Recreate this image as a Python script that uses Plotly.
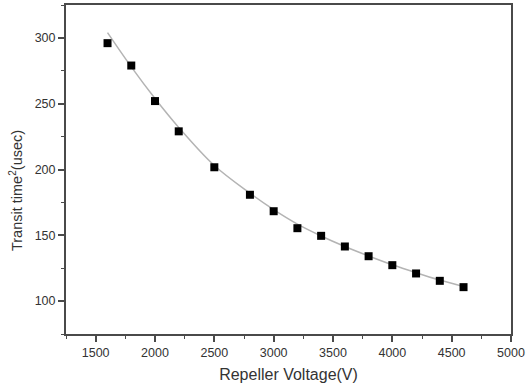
import plotly.graph_objects as go

voltage = [1600, 1800, 2000, 2200, 2500, 2800, 3000, 3200, 3400, 3600, 3800, 4000, 4200, 4400, 4600]
transit_sq = [296, 279, 252, 229, 201.7, 180.8, 168.3, 155.4, 149.6, 141.5, 134.1, 127.3, 121, 115.4, 110.6]

fit_voltage = [1600, 1800, 2000, 2200, 2500, 2800, 3000, 3200, 3400, 3600, 3800, 4000, 4200, 4400, 4600]
fit_values = [304, 278, 254, 232, 203, 182, 169.5, 158.5, 149.5, 141.5, 134.3, 127.6, 121.6, 116, 111]

x_ticks = [1500, 2000, 2500, 3000, 3500, 4000, 4500, 5000]
y_ticks = [100, 150, 200, 250, 300]

fig = go.Figure()
fig.add_trace(go.Scatter(x=fit_voltage, y=fit_values, mode="lines",
                         line=dict(color="#b4b4b4", width=1.5, shape="spline", smoothing=1.0),
                         showlegend=False, hoverinfo="skip"))
fig.add_trace(go.Scatter(x=voltage, y=transit_sq, mode="markers",
                         marker=dict(symbol="square", size=8, color="black",
                                     line=dict(width=0)),
                         showlegend=False))

font_family = "Liberation Sans, Arial"
axis_common = dict(showgrid=False, zeroline=False, showline=True, linecolor="#4a4a4a",
                   linewidth=2, mirror=True, ticks="outside", ticklen=6, tickwidth=1.5,
                   tickcolor="#4a4a4a", automargin=False,
                   tickfont=dict(family=font_family, size=12.5, color="#333"))

fig.update_xaxes(range=[1250, 5000], tickvals=x_ticks,
                 title=dict(text="Repeller Voltage(V)", font=dict(family=font_family, size=16, color="#333"), standoff=10),
                 minor=dict(dtick=250, tick0=1250, ticks="outside", ticklen=3, tickwidth=1.2, tickcolor="#4a4a4a"),
                 **axis_common)
fig.update_yaxes(range=[75, 325], tickvals=y_ticks,
                 minor=dict(dtick=50, tick0=75, ticks="outside", ticklen=3, tickwidth=1.2, tickcolor="#4a4a4a"),
                 **axis_common)

fig.add_annotation(text="Transit time<sup>2</sup>(usec)", textangle=-90, showarrow=False,
                   xref="paper", yref="paper", x=-0.112, y=0.435,
                   xanchor="center", yanchor="middle",
                   font=dict(family=font_family, size=14.5, color="#333"))

fig.update_layout(width=527, height=389, margin=dict(l=66, r=16, t=5, b=55),
                  plot_bgcolor="white", paper_bgcolor="white")

fig.write_html("out.html", config={"displayModeBar": False},
               post_script="document.body.style.margin='0';document.body.style.overflow='hidden';")
